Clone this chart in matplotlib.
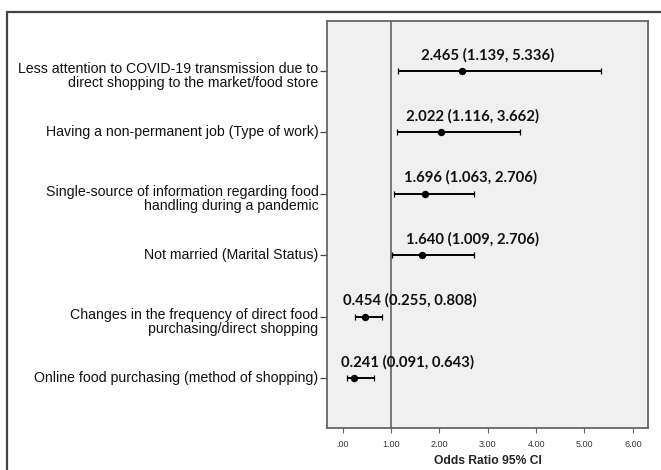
import matplotlib
matplotlib.use("Agg")
import matplotlib.pyplot as plt
import matplotlib.patches as mpatches

factors = [
    "Less attention to COVID-19 transmission due to\ndirect shopping to the market/food store",
    "Having a non-permanent job (Type of work)",
    "Single-source of information regarding food\nhandling during a pandemic",
    "Not married (Marital Status)",
    "Changes in the frequency of direct food\npurchasing/direct shopping",
    "Online food purchasing (method of shopping)",
]
odds_ratio = [2.465, 2.022, 1.696, 1.640, 0.454, 0.241]
ci_low     = [1.139, 1.116, 1.063, 1.009, 0.255, 0.091]
ci_high    = [5.336, 3.662, 2.706, 2.706, 0.808, 0.643]
x_ticks = [0, 1, 2, 3, 4, 5, 6]
x_tick_labels = [".00", "1.00", "2.00", "3.00", "4.00", "5.00", "6.00"]

# where the value labels start (placed by hand in the original)
LABEL_X = [1.62, 1.31, 1.27, 1.31, 0.0, -0.04]

W, H = 661, 470
fig = plt.figure(figsize=(W / 100, H / 100), dpi=100)
ax = fig.add_axes([327.3 / W, 1 - 427.7 / H, 321 / W, (427.7 - 21) / H])

# outer frame of the exported picture
fig.patches.append(mpatches.Rectangle(
    (7.3 / W, -0.1), 1.2, 1 - 12 / H + 0.1, transform=fig.transFigure,
    fill=False, edgecolor="#444444", linewidth=1.6,
))

ax.set_facecolor("#f0f0f0")
for sp in ax.spines.values():
    sp.set_color("#666666")
    sp.set_linewidth(1.3)

ypos = list(range(len(factors), 0, -1))
err = [[o - l for o, l in zip(odds_ratio, ci_low)],
       [h - o for o, h in zip(odds_ratio, ci_high)]]

ax.axvline(1.0, color="#555555", linewidth=1.1, zorder=1)
ax.errorbar(odds_ratio, ypos, xerr=err, fmt="o", color="black",
            markersize=4.3, elinewidth=1.4, capsize=2.2, capthick=0.9, zorder=3)

for lx, y, o, l, h in zip(LABEL_X, ypos, odds_ratio, ci_low, ci_high):
    ax.annotate(f"{o:.3f} ({l:.3f}, {h:.3f})", (lx, y),
                xytext=(0, 8.4), textcoords="offset points",
                ha="left", va="baseline", fontsize=10.7, fontweight="bold",
                family="Lato", color="#111111", zorder=4)

ax.set_xlim(-0.32, 6.32)
ax.set_ylim(0.19, 6.81)
ax.set_xticks(x_ticks)
ax.set_xticklabels(x_tick_labels, fontsize=6.5, color="#333333",
                   family="Liberation Sans")
ax.tick_params(axis="x", length=3.5, width=0.8, color="#666666", pad=5)

ax.set_yticks(ypos)
ax.set_yticklabels([""] * len(ypos))
ax.tick_params(axis="y", length=5, width=0.9, color="#444444")

# category labels: first line sits at the tick, like the SPSS export
for y, txt in zip(ypos, factors):
    if "\n" in txt:
        ax.annotate(txt, (-0.32, y), xytext=(-6.3, 6.2), textcoords="offset points",
                    ha="right", va="top", fontsize=10.15, family="Liberation Sans",
                    color="#111111", linespacing=1.0, annotation_clip=False)
    else:
        ax.annotate(txt, (-0.32, y), xytext=(-6.3, 0), textcoords="offset points",
                    ha="right", va="center", fontsize=10.15, family="Liberation Sans",
                    color="#111111", annotation_clip=False)

ax.set_xlabel("Odds Ratio 95% CI", fontsize=8.7, fontweight="bold",
              family="Liberation Sans", color="#222222", labelpad=5)

fig.savefig("out.png", dpi=100)
